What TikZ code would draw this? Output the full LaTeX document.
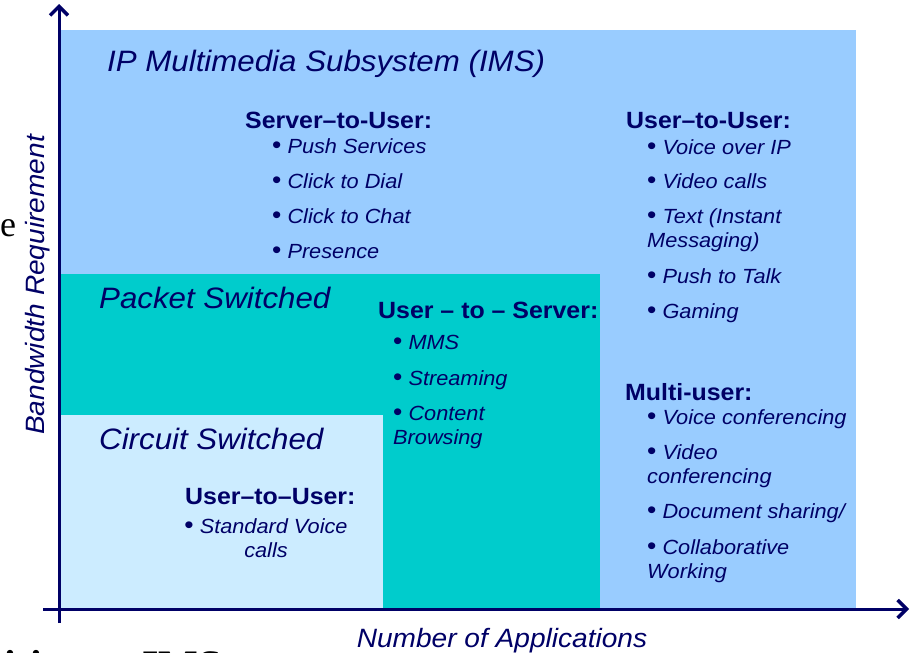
\documentclass[tikz,border=0pt]{standalone}
\usepackage{fontspec}
\setmainfont{Liberation Sans}[FakeStretch=1.06]
\newfontfamily\slidefont{Liberation Serif}
\usetikzlibrary{arrows.meta}
\definecolor{navy}{HTML}{000066}
\definecolor{imsblue}{HTML}{99CCFF}
\definecolor{packetteal}{HTML}{00CCCC}
\definecolor{circuitblue}{HTML}{CCECFF}
% bullet mark set upright and a little larger than the item text
\newcommand{\bul}{{\upshape\fontsize{25}{0}\selectfont •}}
\begin{document}
\begin{tikzpicture}[x=1pt,y=-1pt,
  txt/.style={inner sep=0pt, text=navy, anchor=base west},
  head/.style={txt, font=\fontsize{23.5}{28}\selectfont\bfseries},
  item/.style={txt, font=\fontsize{20.5}{23.5}\selectfont\itshape, align=left},
  region/.style={txt, font=\fontsize{29.5}{34}\selectfont\itshape},
  axislabel/.style={inner sep=0pt, text=navy, anchor=base, font=\fontsize{26.5}{30}\selectfont\itshape},
  axisline/.style={draw=navy, line width=3pt, -{Straight Barb[length=9pt,width=18pt,line width=3.5pt]}}]

\useasboundingbox (0,0) rectangle (910,653);
\clip (0,0) rectangle (910,653);

% coverage areas of the three network types
\fill[imsblue] (60,30) rectangle (856,608);
\fill[packetteal] (60,274) rectangle (600,608);
\fill[circuitblue] (60,415) rectangle (383,608);

% axes
\coordinate (yfoot) at (59,623);
\coordinate (ytip) at (59,4);
\coordinate (xfoot) at (43,609);
\coordinate (xtip) at (909,609);
\draw[axisline] (yfoot) -- (ytip);
\draw[axisline] (xfoot) -- (xtip);

% region titles
\node[region] (ims) at (107,71) {IP Multimedia Subsystem (IMS)};
\node[region] (ps) at (99,308) {Packet Switched};
\node[region] (cs) at (99,449) {Circuit Switched};

% server-to-user services
\node[head] (s2u) at (245,128) {Server–to-User:};
\node[item] (s2ua) at (272,153) {\bul\ Push Services};
\node[item] (s2ub) at (272,188) {\bul\ Click to Dial};
\node[item] (s2uc) at (272,223) {\bul\ Click to Chat};
\node[item] (s2ud) at (272,258) {\bul\ Presence};

% user-to-user services over IP
\node[head] (u2u) at (626,128) {User–to-User:};
\node[item] (u2ua) at (647,154) {\bul\ Voice over IP};
\node[item] (u2ub) at (647,188) {\bul\ Video calls};
\node[item] (u2uc) at (647,247) {\bul\ Text (Instant\\Messaging)};
\node[item] (u2ud) at (647,283) {\bul\ Push to Talk};
\node[item] (u2ue) at (647,318) {\bul\ Gaming};

% user-to-server services
\node[head] (u2s) at (378,318) {User – to – Server:};
\node[item] (u2sa) at (393,349) {\bul\ MMS};
\node[item] (u2sb) at (393,385) {\bul\ Streaming};
\node[item] (u2sc) at (393,444) {\bul\ Content\\Browsing};

% circuit switched services
\node[head] (csu) at (185,504) {User–to–User:};
\node[item, anchor=base, align=center] (csua) at (266,557) {\bul\ Standard Voice\\calls};

% multi-user services
\node[head] (mu) at (625,400) {Multi-user:};
\node[item] (mua) at (647,424) {\bul\ Voice conferencing};
\node[item] (mub) at (647,483) {\bul\ Video\\conferencing};
\node[item] (muc) at (647,518) {\bul\ Document sharing/};
\node[item] (mud) at (647,578) {\bul\ Collaborative\\Working};

% axis labels
\node[axislabel, rotate=90] (ylab) at (44,285) {Bandwidth Requirement};
\node[axislabel] (xlab) at (502,647) {Number of Applications};

% surrounding slide text
\node[inner sep=0pt, anchor=base west, font=\slidefont\fontsize{36}{40}\selectfont] (stray) at (0,236) {e};
\node[inner sep=0pt, anchor=base west, font=\slidefont\bfseries\fontsize{42}{48}\selectfont] (foot) at (-100,679) {Transition to IMS};
\end{tikzpicture}
\end{document}
